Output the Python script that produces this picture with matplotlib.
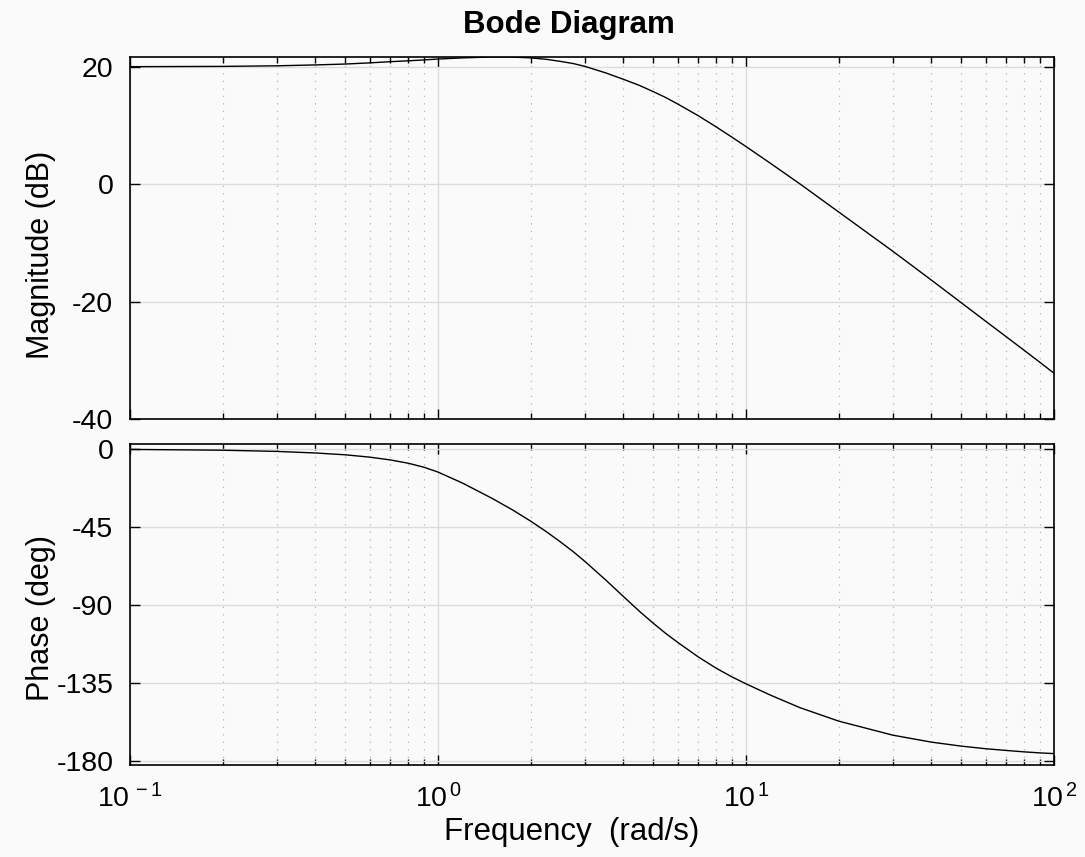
import math
import matplotlib
matplotlib.use("Agg")
import matplotlib.pyplot as plt
from matplotlib.ticker import FixedLocator, LogLocator, NullFormatter, FuncFormatter

# ---- data ----
freq_mag = [0.1, 0.2, 0.3, 0.4, 0.5, 0.6, 0.7, 0.8, 0.9, 1.0, 1.2, 1.5, 1.65, 1.8, 2.0,
            2.25, 2.5, 2.75, 3.0, 3.5, 4.0, 4.5, 5.0, 5.5, 6.0, 7.0, 8.0, 9.0, 10.0,
            12.0, 15.0, 20.0, 30.0, 40.0, 50.0, 60.0, 70.0, 80.0, 90.0, 100.0]
mag_db = [20.0, 20.05, 20.15, 20.3, 20.45, 20.65, 20.85, 21.0, 21.15, 21.3, 21.5, 21.65,
          21.67, 21.6, 21.5, 21.25, 20.9, 20.53, 20.05, 18.95, 17.85, 16.83, 15.75,
          14.72, 13.65, 11.65, 9.75, 8.0, 6.4, 3.55, 0.0, -4.75, -11.45, -16.35,
          -20.2, -23.35, -26.0, -28.3, -30.35, -32.2]

freq_ph = [0.1, 0.2, 0.3, 0.4, 0.5, 0.6, 0.7, 0.8, 0.9, 1.0, 1.2, 1.5, 1.75, 2.0,
           2.25, 2.5, 2.75, 3.0, 3.5, 4.0, 4.5, 5.0, 5.5, 6.0, 7.0, 8.0, 9.0, 10.0,
           12.0, 15.0, 20.0, 30.0, 40.0, 50.0, 60.0, 70.0, 80.0, 90.0, 100.0]
phase_deg = [-0.45, -0.9, -1.6, -2.5, -3.55, -4.9, -6.5, -8.4, -10.7, -13.5, -19.8,
             -28.7, -35.4, -41.8, -47.9, -53.8, -59.4, -65.0, -75.6, -85.2, -93.6,
             -100.6, -106.6, -111.6, -120.0, -126.5, -131.5, -135.5, -142.0, -149.3,
             -157.0, -165.1, -169.1, -171.4, -172.9, -173.9, -174.7, -175.3, -175.7]

mag_ticks = [-40, -20, 0, 20]
phase_ticks = [-180, -135, -90, -45, 0]
freq_ticks = [0.1, 1, 10, 100]

title_text = "Bode Diagram"
mag_label = "Magnitude (dB)"
phase_label = "Phase (deg)"
freq_label = "Frequency  (rad/s)"

# ---- style ----
plt.rcParams['font.family'] = ['Liberation Sans', 'DejaVu Sans']
plt.rcParams['mathtext.fontset'] = 'custom'
plt.rcParams['mathtext.rm'] = 'Liberation Sans'
plt.rcParams['mathtext.it'] = 'Liberation Sans'
plt.rcParams['axes.unicode_minus'] = False
bg = '#fafafa'

fig = plt.figure(figsize=(10.85, 8.57), dpi=100, facecolor=bg)
W, H = 1085, 857
def rect(l, t, r, b):
    return [l / W, 1 - b / H, (r - l) / W, (b - t) / H]

ax1 = fig.add_axes(rect(130, 56.7, 1054, 419))
ax2 = fig.add_axes(rect(130, 444.3, 1054, 764.7))

ax1.plot(freq_mag, mag_db, color='black', lw=1.0)
ax2.plot(freq_ph, phase_deg, color='black', lw=1.0)

ax1.set_ylim(-40, 21.7)
ax2.set_ylim(-182.1, 2.5)
ax1.set_yticks(mag_ticks)
ax2.set_yticks(phase_ticks)

def fmt(v, pos):
    e = int(round(math.log10(v)))
    return r'$\mathregular{10^{\,%d}}$' % e

for ax in (ax1, ax2):
    ax.set_facecolor(bg)
    ax.set_xscale('log')
    ax.set_xlim(0.1, 100)
    ax.xaxis.set_major_locator(FixedLocator(freq_ticks))
    ax.xaxis.set_minor_locator(LogLocator(base=10, subs=range(2, 10)))
    ax.xaxis.set_minor_formatter(NullFormatter())
    ax.grid(which='major', color='#dcdcdc', lw=1.0, ls='-')
    ax.grid(which='minor', axis='x', color='#b4b4b4', lw=0.9, ls=(0, (1, 5)))
    ax.set_axisbelow(True)
    ax.tick_params(which='both', direction='in', top=True, right=True,
                   labelsize=20.5, width=1.0, color='black')
    ax.tick_params(which='major', length=7)
    ax.tick_params(which='minor', length=4)
    ax.tick_params(axis='y', pad=12)
    for s in ax.spines.values():
        s.set_linewidth(1.2)
        s.set_color('black')

ax1.tick_params(axis='x', which='both', labelbottom=False)
ax2.xaxis.set_major_formatter(FuncFormatter(fmt))
ax2.tick_params(axis='x', pad=14)

fig.text(569 / W, 1 - 25 / H, title_text, ha='center', va='center',
         fontsize=22.5, fontweight='bold')
fig.text(41 / W, 1 - 255 / H, mag_label, ha='center', va='center',
         rotation=90, fontsize=22)
fig.text(41 / W, 1 - 618 / H, phase_label, ha='center', va='center',
         rotation=90, fontsize=22)
fig.text(571.6 / W, 1 - 832 / H, freq_label, ha='center', va='center',
         fontsize=22.5)

fig.savefig('out.png', dpi=100, facecolor=bg)
